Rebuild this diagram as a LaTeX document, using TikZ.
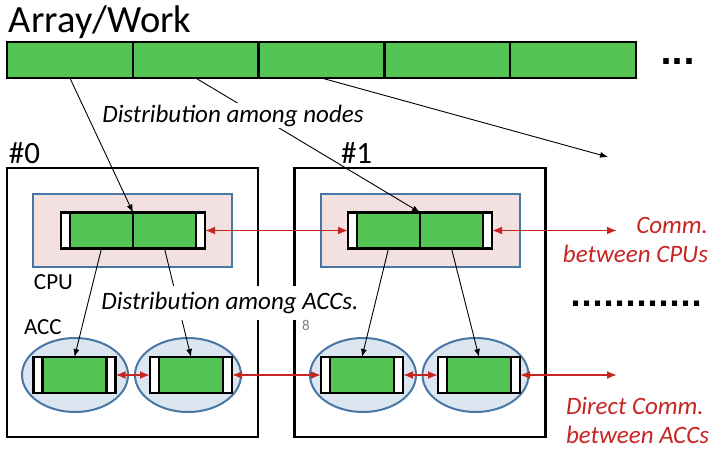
\documentclass[tikz,border=0pt]{standalone}
\usepackage{fontspec}
\setmainfont{Carlito}
\newfontfamily\dotfont{DejaVu Sans}
\usetikzlibrary{shapes.geometric,arrows.meta,positioning}
\definecolor{arrgreen}{RGB}{84,197,84}
\definecolor{cpupink}{RGB}{243,224,224}
\definecolor{accblue}{RGB}{220,230,241}
\definecolor{edgeblue}{RGB}{72,118,165}
\definecolor{commred}{RGB}{200,36,34}

\begin{document}
\begin{tikzpicture}[x=1pt, y=-1pt, >={Latex[length=8pt,width=6pt]}]
    \tikzstyle{every node} = [inner sep=0pt, outer sep=0pt, font=\fontsize{23}{29}\selectfont]
    \tikzstyle{cell} = [draw, line width=2.4pt, fill=arrgreen, minimum width=63pt, minimum height=36pt]
    \tikzstyle{endcap} = [cell, fill=white, minimum width=9pt]
    \tikzstyle{machine} = [draw, line width=2.4pt, minimum width=251pt, minimum height=269pt]
    \tikzstyle{cpu} = [draw=edgeblue, line width=2pt, fill=cpupink, minimum width=199pt, minimum height=73pt]
    \tikzstyle{acc} = [ellipse, draw=edgeblue, line width=2pt, fill=accblue, minimum width=106pt, minimum height=74pt]
    \tikzstyle{dist} = [->, line width=0.9pt]
    \tikzstyle{comm} = [<->, >={Latex[length=10pt,width=8pt]}, draw=commred, line width=1.8pt]
    \tikzstyle{slanted} = [font=\fontsize{25}{29}\selectfont\itshape]
    \tikzstyle{note} = [slanted, text=commred]
    \tikzstyle{dots} = [font=\fontsize{29}{29}\selectfont\dotfont\bfseries]

    \useasboundingbox (0,0) rectangle (710,450);

    % work array
    \node (title) [anchor=base west, font=\fontsize{38.5}{38.5}\selectfont] at (9,32) {Array/Work};
    \node (a1) [cell, minimum width=125.8pt] at (69.9,60) {};
    \foreach \i [count=\j] in {2,...,5}
        \node (a\i) [cell, minimum width=125.8pt, right=0pt of a\j] {};
    \node (more) [dots, font=\fontsize{31.5}{31.5}\selectfont\dotfont\bfseries, anchor=base west] at (660,64) {...};

    % the two compute nodes
    \node (n0) [machine] at (132.5,302.5) {};
    \node (n1) [machine] at (420,302.5) {};
    \node (n0 lab) [anchor=base west, font=\fontsize{31}{31}\selectfont] at (9,163) {\#0};
    \node (n1 lab) [anchor=base west, font=\fontsize{31}{31}\selectfont] at (341,163) {\#1};
    \node (p0) [cpu] at (132.5,230.5) {};
    \node (p1) [cpu] at (420,230.5) {};
    \node (cpu lab) [anchor=base west] at (34,289) {CPU};
    \node (acc lab) [anchor=base west] at (24,334) {ACC};

    % cpu arrays
    \node (c0L) [endcap] at (65.5,230.5) {};
    \node (c0a) [cell, right=0pt of c0L] {};
    \node (c0b) [cell, right=0pt of c0a] {};
    \node (c0R) [endcap, right=0pt of c0b] {};
    \node (c1L) [endcap] at (352.5,230.5) {};
    \node (c1a) [cell, right=0pt of c1L] {};
    \node (c1b) [cell, right=0pt of c1a] {};
    \node (c1R) [endcap, right=0pt of c1b] {};

    % accelerators
    \foreach \k/\x in {00/75, 01/188, 10/363, 11/475.5}
        \node (e\k) [acc] at (\x,375) {};
    \foreach \k/\x in {00/38, 01/154.5, 10/325.5, 11/442.5} {
        \node (kl\k) [endcap] at (\x,375) {};
        \node (k\k) [cell, minimum width=64pt, right=0pt of kl\k] {};
        \node (kr\k) [endcap, right=0pt of k\k] {};
    }

    % distribution
    \coordinate (next node) at (608,157);
    \draw [dist] (a1.south) -- (c0a.north east);
    \draw [dist] (a2.south) -- (c1a.north east);
    \draw [dist] (a3.south) -- (next node);
    \draw [dist] (c0a.south) -- (k00.north);
    \draw [dist] (c0b.south) -- (k01.north);
    \draw [dist] (c1a.south) -- (k10.north);
    \draw [dist] (c1b.south) -- (k11.north);

    % communication
    \coordinate (cpu out) at (617,230.5);
    \coordinate (acc out) at (617,375);
    \draw [comm] (c0R.east) -- (c1L.west);
    \draw [comm] (c1R.east) -- (cpu out);
    \draw [comm] (kr00.east) -- (kl01.west);
    \draw [comm] (kr01.east) -- (kl10.west);
    \draw [comm] (kr10.east) -- (kl11.west);
    \draw [comm] (kr11.east) -- (acc out);

    \node (nodes txt) [slanted, fill=white, inner sep=2pt, anchor=base] at (233,122) {Distribution among nodes};
    \node (accs txt) [slanted, fill=white, inner xsep=3pt, inner ysep=5pt, text height=18pt, text depth=6pt, anchor=base] at (230,309) {Distribution among ACCs.};
    \node (page) [text=gray, font=\fontsize{15}{15}\selectfont, anchor=base west] at (302,330) {8};
    \node (cpu note) [note, align=right, anchor=base east] at (708,262) {Comm.\\between CPUs};
    \node (gap) [dots, anchor=base west] at (570,306) {............};
    \node (acc note) [note, align=left, anchor=base west] at (566,443) {Direct Comm.\\between ACCs};
\end{tikzpicture}
\end{document}
